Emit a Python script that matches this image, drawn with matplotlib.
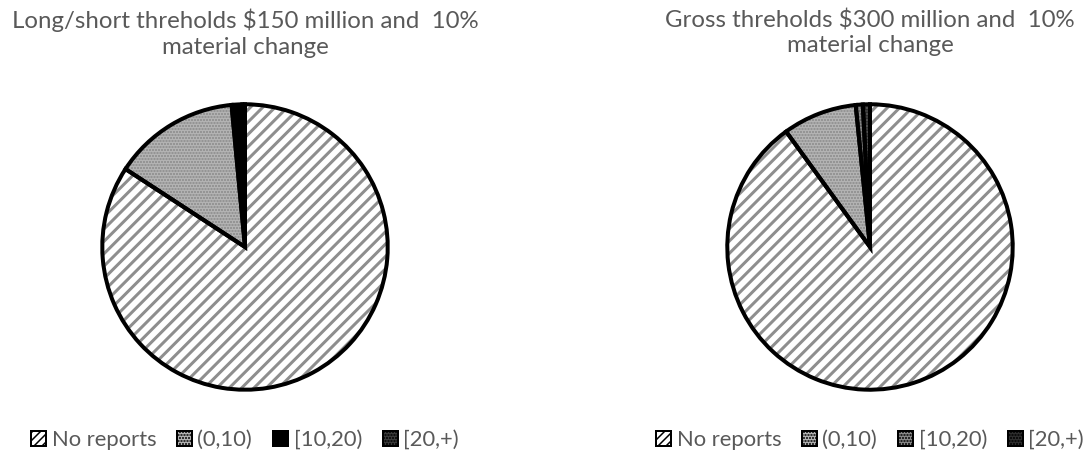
import numpy as np
import matplotlib.pyplot as plt
import matplotlib.patches as mpatches

# Share of funds by number of reports (percent)
categories = ['No reports', '(0,10)', '[10,20)', '[20,+)']
long_short = [84.2, 14.3, 1.2, 0.3]
gross = [90.0, 8.4, 0.8, 0.8]

title_left = 'Long/short threholds \\$150 million and  10%\nmaterial change'
title_right = 'Gross threholds \\$300 million and  10%\nmaterial change'

plt.rcParams['font.family'] = ['Lato', 'DejaVu Sans']
plt.rcParams['hatch.linewidth'] = 1.5
text_color = '#595959'
stripe_color = '#8e8e8e'

# face, hatch, hatch colour per category ('stripes' = drawn by hand)
left_styles = [('white', 'stripes', stripe_color),
               ('#b4b4b4', '....', '#8a8a8a'),
               ('black', '', 'black'),
               ('#3a3a3a', '....', '#6a6a6a')]
right_styles = [('white', 'stripes', stripe_color),
                ('#b4b4b4', '....', '#8a8a8a'),
                ('#8a8a8a', '....', '#5a5a5a'),
                ('#2e2e2e', '....', '#5a5a5a')]

W, H = 1091, 454
fig = plt.figure(figsize=(W / 72, H / 72), dpi=72)


def draw_pie(cx, cy, r, values, styles, title):
    ax = fig.add_axes([(cx - r) / W, 1 - (cy + r) / H, 2 * r / W, 2 * r / H])
    wedges, _ = ax.pie(values, startangle=90, counterclock=False, radius=1)
    for w, (fc, hatch, hc) in zip(wedges, styles):
        w.set_facecolor(fc)
        w.set_linewidth(0)
        if hatch == 'stripes':
            # diagonal stripes clipped to the wedge
            step = 9.0 / r
            ang = np.deg2rad(45)
            d = np.array([np.cos(ang), np.sin(ang)])
            n = np.array([-np.sin(ang), np.cos(ang)])
            for k in np.arange(-1.6, 1.6, step):
                p0 = n * k - d * 1.6
                p1 = n * k + d * 1.6
                ln, = ax.plot([p0[0], p1[0]], [p0[1], p1[1]], color=hc,
                              lw=3.0, solid_capstyle='butt', zorder=2)
                ln.set_clip_path(w)
        elif hatch:
            w.set_hatch(hatch)
            w.set_edgecolor(hc)
    outl, _ = ax.pie(values, startangle=90, counterclock=False, radius=1,
                     wedgeprops=dict(facecolor='none', edgecolor='black', linewidth=4))
    for w in outl:
        w.set_zorder(5)
    ax.set_xlim(-1.03, 1.03)
    ax.set_ylim(-1.03, 1.03)
    ax.set_aspect('auto')
    ax.axis('off')

    fig.text(cx / W, 1 - 9 / H, title, ha='center', va='top',
             fontsize=24, color=text_color, linespacing=1.25)

    handles = []
    for (fc, hatch, hc) in styles:
        if hatch == 'stripes':
            handles.append(mpatches.Patch(facecolor=fc, hatch='///', edgecolor=hc, linewidth=0))
        else:
            handles.append(mpatches.Patch(facecolor=fc, hatch=hatch, edgecolor=hc, linewidth=0))
    leg = fig.legend(handles, categories, loc='center', ncol=4,
                     bbox_to_anchor=(cx / W, 1 - 440 / H), frameon=False,
                     fontsize=22, handlelength=0.68, handleheight=0.68,
                     handletextpad=0.25, columnspacing=0.95, borderaxespad=0, borderpad=0)
    for t in leg.get_texts():
        t.set_color(text_color)
    for p in leg.get_patches():
        p.set_edgecolor('black')
        p.set_linewidth(2)


draw_pie(245, 247, 147, long_short, left_styles, title_left)
draw_pie(870, 247, 147, gross, right_styles, title_right)

plt.savefig('out.png', dpi=72, facecolor='white')
